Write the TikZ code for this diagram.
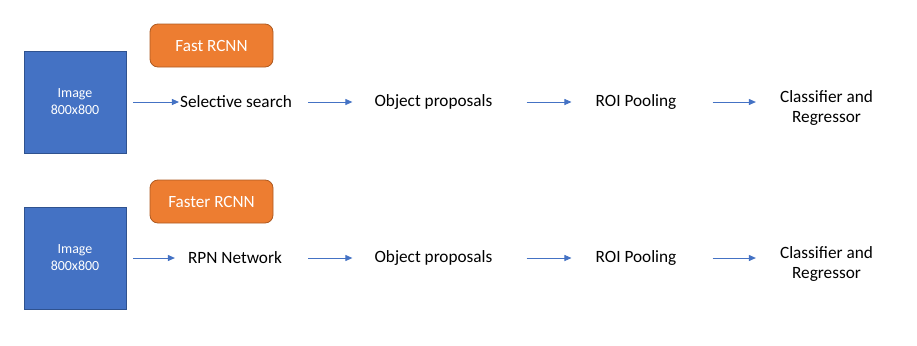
\documentclass[tikz,border=0pt]{standalone}
\usepackage{fontspec}
\setmainfont{Carlito}
\usetikzlibrary{arrows.meta}
\definecolor{boxblue}{HTML}{4472C4}
\definecolor{boxblueline}{HTML}{2F528F}
\definecolor{boxorange}{HTML}{ED7D31}
\definecolor{boxorangeline}{HTML}{AE5A21}
\tikzset{
  imgbox/.style={draw=boxblueline, line width=0.6bp, fill=boxblue, minimum width=102bp, minimum height=102bp, inner sep=0pt, text=white, font=\fontsize{14}{17}\selectfont, align=center},
  titlebox/.style={draw=boxorangeline, line width=0.8bp, fill=boxorange, rounded corners=8bp, minimum width=123bp, minimum height=43bp, inner sep=0pt, text=white, font=\fontsize{17.2}{20}\selectfont},
  stagetext/.style={inner sep=0pt, font=\fontsize{17.3}{21}\selectfont, align=center},
  flow/.style={draw=boxblue, line width=0.9bp, -{Triangle[length=7bp,width=6bp]}}
}
\begin{document}
\begin{tikzpicture}[x=1bp,y=-1bp]
\useasboundingbox (0,0) rectangle (917,345);
% row 1
\node[imgbox] (img1) at (75,102) {Image\\800x800};
\node[titlebox] (t1) at (211.5,45.5) {Fast RCNN};
\node[stagetext] (sel) at (236,102) {Selective search};
\node[stagetext] (obj1) at (433.5,102) {Object proposals};
\node[stagetext] (roi1) at (636,102) {ROI Pooling};
\node[stagetext] (cls1) at (826.5,108) {Classifier and\\Regressor};
\draw[flow, shorten <=7bp, shorten >=1bp] (img1.east) -- (sel.west);
\draw[flow, shorten <=16bp, shorten >=22bp] (sel.east) -- (obj1.west);
\draw[flow, shorten <=34bp, shorten >=24bp] (obj1.east) -- (roi1.west);
\draw[flow, shorten <=36bp, shorten >=24bp] (roi1.east) -- (roi1.east -| cls1.west);
% row 2
\node[imgbox] (img2) at (75,258) {Image\\800x800};
\node[titlebox] (t2) at (211.5,201.5) {Faster RCNN};
\node[stagetext] (rpn) at (235,258) {RPN Network};
\node[stagetext] (obj2) at (433.5,258) {Object proposals};
\node[stagetext] (roi2) at (636,258) {ROI Pooling};
\node[stagetext] (cls2) at (826.5,264) {Classifier and\\Regressor};
\draw[flow, shorten <=7bp, shorten >=13bp] (img2.east) -- (rpn.west);
\draw[flow, shorten <=26bp, shorten >=22bp] (rpn.east) -- (obj2.west);
\draw[flow, shorten <=34bp, shorten >=24bp] (obj2.east) -- (roi2.west);
\draw[flow, shorten <=36bp, shorten >=24bp] (roi2.east) -- (roi2.east -| cls2.west);
\end{tikzpicture}
\end{document}
